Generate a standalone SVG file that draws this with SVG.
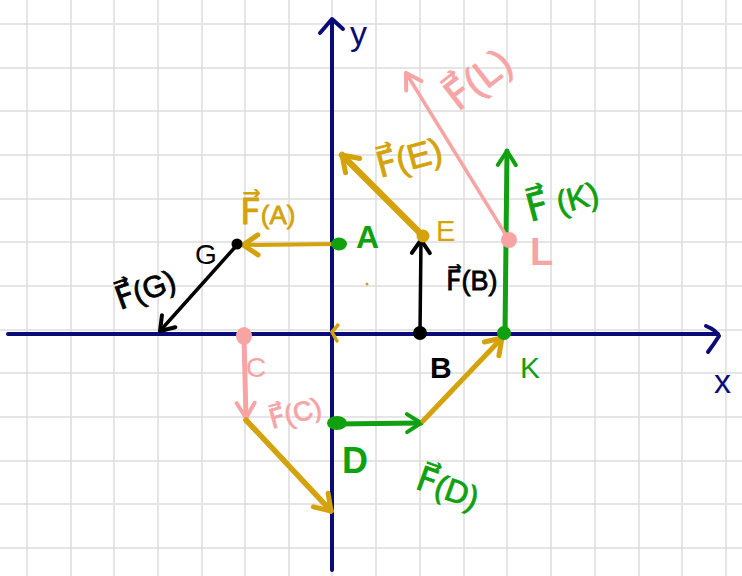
<svg xmlns="http://www.w3.org/2000/svg" width="742" height="576" viewBox="0 0 742 576">
<style>
.grid line{stroke:#dcdcdc;stroke-width:1.5}
.ax{stroke:#0b0b78;stroke-width:4;fill:none;stroke-linecap:round;stroke-linejoin:round}
.t{font-family:"Liberation Sans","DejaVu Sans",sans-serif}
.gold{fill:#d4a20a}.gs{stroke:#d4a20a}
.grn{fill:#10a010}.gns{stroke:#10a010}
.pnk{fill:#f7a4a4}.ps{stroke:#f7a4a4}
.blk{fill:#000}.bs{stroke:#000}
.v{fill:none;stroke-linecap:round}
#labels text{stroke-width:0.8}
</style>
<defs>
<marker id="hGold" markerUnits="userSpaceOnUse" viewBox="-20 -15 30 30" markerWidth="30" markerHeight="30" refX="0" refY="0" orient="auto" overflow="visible"><path d="M-15,-10 L0,0 L-15,10" fill="none" stroke="#d4a20a" stroke-width="5" stroke-linecap="round" stroke-linejoin="round"/></marker>
<marker id="hBlk" markerUnits="userSpaceOnUse" viewBox="-20 -15 30 30" markerWidth="30" markerHeight="30" refX="0" refY="0" orient="auto" overflow="visible"><path d="M-13,-9 L0,0 L-13,9" fill="none" stroke="#000" stroke-width="4" stroke-linecap="round" stroke-linejoin="round"/></marker>
<marker id="hGrn" markerUnits="userSpaceOnUse" viewBox="-20 -15 30 30" markerWidth="30" markerHeight="30" refX="0" refY="0" orient="auto" overflow="visible"><path d="M-14,-9 L0,0 L-14,9" fill="none" stroke="#10a010" stroke-width="4" stroke-linecap="round" stroke-linejoin="round"/></marker>
<marker id="hPnk" markerUnits="userSpaceOnUse" viewBox="-20 -15 30 30" markerWidth="30" markerHeight="30" refX="0" refY="0" orient="auto" overflow="visible"><path d="M-15,-9 L0,0 L-15,9" fill="none" stroke="#f7a4a4" stroke-width="4" stroke-linecap="round" stroke-linejoin="round"/></marker>
</defs>
<rect width="742" height="576" fill="#fff"/>
<g class="grid">
<line x1="27" y1="0" x2="27" y2="576"/><line x1="71" y1="0" x2="71" y2="576"/><line x1="114" y1="0" x2="114" y2="576"/><line x1="158" y1="0" x2="158" y2="576"/><line x1="202" y1="0" x2="202" y2="576"/><line x1="245" y1="0" x2="245" y2="576"/><line x1="289" y1="0" x2="289" y2="576"/><line x1="332" y1="0" x2="332" y2="576"/><line x1="376" y1="0" x2="376" y2="576"/><line x1="420" y1="0" x2="420" y2="576"/><line x1="464" y1="0" x2="464" y2="576"/><line x1="507" y1="0" x2="507" y2="576"/><line x1="551" y1="0" x2="551" y2="576"/><line x1="595" y1="0" x2="595" y2="576"/><line x1="639" y1="0" x2="639" y2="576"/><line x1="682" y1="0" x2="682" y2="576"/><line x1="726" y1="0" x2="726" y2="576"/>
<line x1="0" y1="24" x2="742" y2="24"/><line x1="0" y1="68" x2="742" y2="68"/><line x1="0" y1="111" x2="742" y2="111"/><line x1="0" y1="155" x2="742" y2="155"/><line x1="0" y1="199" x2="742" y2="199"/><line x1="0" y1="242" x2="742" y2="242"/><line x1="0" y1="286" x2="742" y2="286"/><line x1="0" y1="330" x2="742" y2="330"/><line x1="0" y1="373" x2="742" y2="373"/><line x1="0" y1="417" x2="742" y2="417"/><line x1="0" y1="461" x2="742" y2="461"/><line x1="0" y1="504" x2="742" y2="504"/><line x1="0" y1="548" x2="742" y2="548"/>
</g>
<g id="axes">
<path class="ax" d="M8,334 L718,334"/>
<path class="ax" d="M706,326 Q716,330 719,336 Q714,344 708,352"/>
<path class="ax" d="M332,570 L332,20"/>
<path class="ax" d="M320,33 L332,19 L343,29"/>
<text class="t" x="350" y="45" font-size="34" fill="#0b0b78">y</text>
<text class="t" x="714" y="393" font-size="34" fill="#0b0b78">x</text>
</g>
<g id="connectors" class="v">
<path class="gs" stroke-width="4" d="M336,244 L243,245" marker-end="url(#hGold)"/>
<path class="bs" stroke-width="3.5" d="M237,245 L160,331" marker-end="url(#hBlk)"/>
<path class="gs" stroke-width="6.5" d="M423,236 L342,155" marker-end="url(#hGold)"/>
<path class="bs" stroke-width="3.5" d="M420,333 L421,240" marker-end="url(#hBlk)"/>
<path class="gns" stroke-width="5" d="M505,333 L507,151" marker-end="url(#hGrn)"/>
<path class="ps" stroke-width="3.5" d="M509,240 L406,73" marker-end="url(#hPnk)"/>
<path class="ps" stroke-width="5" d="M244,337 L246,418" marker-end="url(#hPnk)"/>
<path class="gs" stroke-width="5.5" d="M246,420 L331,511" marker-end="url(#hGold)"/>
<path class="gns" stroke-width="5" d="M335,424 L421,423" marker-end="url(#hGrn)"/>
<path class="gs" stroke-width="5" d="M423,421 L502,338" marker-end="url(#hGold)"/>
<path class="gs" stroke-width="3.5" d="M338,325 L332,332 L337,341"/>
</g>
<g id="A"><ellipse class="grn" cx="339" cy="244" rx="8" ry="6.5"/><text class="t grn" x="356" y="248" font-size="32" font-weight="bold">A</text></g>
<g id="G"><circle class="blk" cx="237" cy="244" r="5.5"/><text class="t blk" x="195" y="264" font-size="28">G</text></g>
<g id="E"><circle class="gold" cx="423" cy="236" r="6.5"/><text class="t gold" x="436" y="241" font-size="29">E</text></g>
<g id="B"><circle class="blk" cx="420" cy="333" r="7"/><text class="t blk" x="430" y="378" font-size="30" font-weight="bold">B</text></g>
<g id="K"><circle class="grn" cx="504" cy="333" r="7"/><text class="t grn" x="520" y="378" font-size="30">K</text></g>
<g id="L"><circle class="pnk" cx="509" cy="240" r="8"/><text class="t pnk" x="530" y="265" font-size="38" font-weight="bold">L</text></g>
<g id="C"><ellipse class="pnk" cx="244" cy="336" rx="8" ry="9"/><text class="t pnk" x="246" y="377" font-size="28">C</text></g>
<g id="D"><ellipse class="grn" cx="337" cy="423" rx="10" ry="7"/><text class="t grn" x="342" y="473" font-size="36" font-weight="bold">D</text></g>
<g id="O"><circle class="gold" cx="367" cy="284" r="1.5"/></g>
<g id="labels">
<text class="t gold" x="240" y="224" font-size="36" stroke="#d4a20a">F⃗<tspan font-size="26">(A)</tspan></text>
<text class="t blk" transform="translate(120,310) rotate(-20)" font-size="32" stroke="#000">F⃗<tspan font-size="30">(G)</tspan></text>
<text class="t gold" transform="translate(380,178) rotate(-15)" font-size="35" stroke="#d4a20a">F⃗(E)</text>
<text class="t blk" x="446" y="290" font-size="27" stroke="#000">F⃗(B)</text>
<text class="t grn" transform="translate(530,222) rotate(-15)" font-size="38" stroke="#10a010">F⃗<tspan font-size="32"> (K)</tspan></text>
<text class="t pnk" transform="translate(458,112) rotate(-38)" font-size="40" stroke="#f7a4a4">F⃗(L)</text>
<text class="t pnk" transform="translate(272,429) rotate(-15)" font-size="27" stroke="#f7a4a4">F⃗(C)</text>
<text class="t grn" transform="translate(414,488) rotate(20)" font-size="34" stroke="#10a010">F⃗<tspan font-size="32">(D)</tspan></text>
</g>
</svg>
